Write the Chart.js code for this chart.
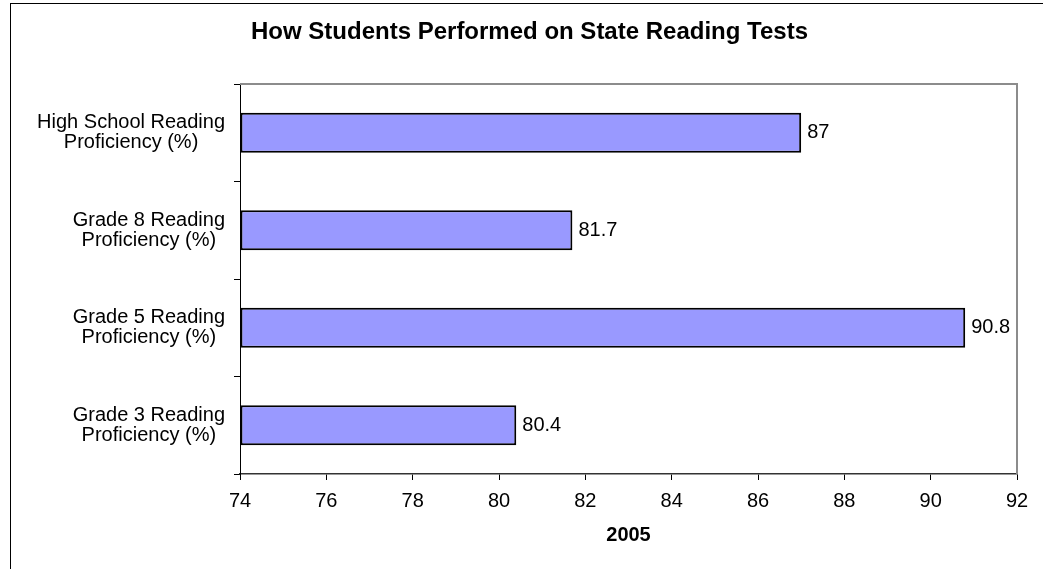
<!DOCTYPE html>
<html>
<head>
<meta charset="utf-8">
<script src="https://cdn.jsdelivr.net/npm/chart.js@4/dist/chart.umd.min.js"></script>
<style>
  html, body { margin: 0; padding: 0; background: #fff; overflow: hidden; }
  #wrap { position: absolute; left: 0; top: 0; width: 1043px; height: 569px; }
</style>
</head>
<body>
<div id="wrap"><canvas id="readingChart" width="1043" height="569"></canvas></div>
<script>
// categories, top to bottom
const categories = [
  ['High School Reading', 'Proficiency (%)'],
  ['Grade 8 Reading', 'Proficiency (%)'],
  ['Grade 5 Reading', 'Proficiency (%)'],
  ['Grade 3 Reading', 'Proficiency (%)']
];
const scores2005 = [87, 81.7, 90.8, 80.4];
const xMin = 74;
const xMax = 92;
const xStep = 2;

const FONT = 'Arial, "Liberation Sans", sans-serif';
Chart.defaults.font.family = FONT;
Chart.defaults.color = '#000';

// frame round the whole chart + grey top/right edges of the plot
const framePlugin = {
  id: 'frame',
  beforeDraw(chart) {
    const ctx = chart.ctx;
    ctx.save();
    ctx.fillStyle = '#fff';
    ctx.fillRect(0, 0, chart.width, chart.height);
    ctx.strokeStyle = '#000';
    ctx.lineWidth = 1;
    ctx.strokeRect(10.5, 3.5, 2000, 2000);
    ctx.restore();
  },
  afterDraw(chart) {
    const a = chart.chartArea;
    const ctx = chart.ctx;
    ctx.save();
    ctx.strokeStyle = '#8c8c8c';
    ctx.lineWidth = 2;
    ctx.beginPath();
    ctx.moveTo(a.left, a.top);
    ctx.lineTo(a.right, a.top);
    ctx.lineTo(a.right, a.bottom);
    ctx.stroke();
    ctx.restore();
  }
};

// two-line category labels, lines centred within a right-aligned block
const catLabelPlugin = {
  id: 'catLabels',
  afterDraw(chart) {
    const scale = chart.scales.y;
    const ctx = chart.ctx;
    const rightEdge = chart.chartArea.left - 15;
    const lineGap = 20;
    ctx.save();
    ctx.font = '20px ' + FONT;
    ctx.fillStyle = '#000';
    ctx.textAlign = 'center';
    ctx.textBaseline = 'middle';
    categories.forEach((lines, i) => {
      const yc = scale.getPixelForValue(i);
      const w = Math.max(...lines.map(l => ctx.measureText(l).width));
      const xc = rightEdge - w / 2;
      lines.forEach((l, j) => {
        ctx.fillText(l, xc, yc + (j - (lines.length - 1) / 2) * lineGap);
      });
    });
    ctx.restore();
  }
};

// value labels at the end of each bar
const valueLabelPlugin = {
  id: 'valueLabels',
  afterDatasetsDraw(chart) {
    const ctx = chart.ctx;
    const meta = chart.getDatasetMeta(0);
    ctx.save();
    ctx.font = '20px ' + FONT;
    ctx.fillStyle = '#000';
    ctx.textAlign = 'left';
    ctx.textBaseline = 'middle';
    meta.data.forEach((bar, i) => {
      ctx.fillText(String(scores2005[i]), bar.x + 6, bar.y);
    });
    ctx.restore();
  }
};

new Chart(document.getElementById('readingChart').getContext('2d'), {
  type: 'bar',
  data: {
    labels: categories,
    datasets: [{
      label: '2005',
      data: scores2005,
      base: xMin,
      backgroundColor: '#9999ff',
      borderColor: '#000',
      borderWidth: 2,
      borderSkipped: false,
      categoryPercentage: 1,
      barPercentage: 0.41
    }]
  },
  options: {
    indexAxis: 'y',
    responsive: false,
    animation: false,
    layout: { padding: { left: 42, right: 26, top: 0, bottom: 0 } },
    plugins: {
      legend: { display: false },
      tooltip: { enabled: false },
      title: {
        display: true,
        text: 'How Students Performed on State Reading Tests',
        color: '#000',
        font: { size: 24, weight: 'bold', family: FONT },
        padding: { top: 17.6, bottom: 37.6 }
      }
    },
    scales: {
      x: {
        min: xMin,
        max: xMax,
        afterFit(scale) { scale.height = 95; },
        ticks: {
          stepSize: xStep,
          padding: 9,
          color: '#000',
          font: { size: 20 }
        },
        grid: {
          drawOnChartArea: false,
          drawTicks: true,
          tickLength: 6,
          color: '#000'
        },
        border: { color: '#333', width: 1.5 },
        title: {
          display: true,
          text: '2005',
          color: '#000',
          font: { size: 20, weight: 'bold' },
          padding: { top: 0, bottom: 22 }
        }
      },
      y: {
        afterFit(scale) { scale.width = 198; },
        ticks: { display: false },
        grid: {
          offset: true,
          drawOnChartArea: false,
          drawTicks: true,
          tickLength: 6,
          color: '#000'
        },
        border: { color: '#000', width: 1 }
      }
    }
  },
  plugins: [framePlugin, catLabelPlugin, valueLabelPlugin]
});
</script>
</body>
</html>
